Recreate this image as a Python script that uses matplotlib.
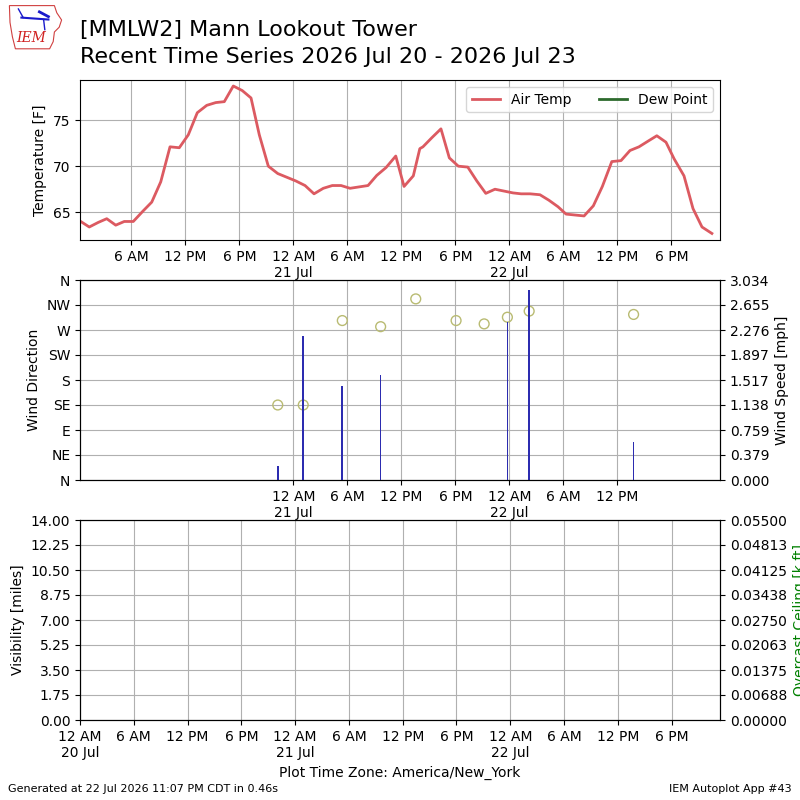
import datetime

import numpy as np
import matplotlib
matplotlib.use('Agg')
import matplotlib.pyplot as plt
import matplotlib.dates as mdates
from matplotlib.ticker import FuncFormatter, FixedLocator
from matplotlib.patches import Polygon

BASE = datetime.datetime(2026, 7, 20, 0, 0)

# hours after 20 Jul 00:00 (America/New_York)
temp_hours = [0.38, 1.33, 2.33, 3.27, 4.27, 5.22, 6.22, 7.27, 8.27, 9.27,
              10.3, 11.33, 12.33, 13.33, 14.38, 15.38, 16.33, 17.33, 18.33, 19.3,
              20.22, 21.22, 22.27, 23.27, 24.27, 25.3, 26.3, 27.33, 28.33, 29.3,
              30.3, 31.3, 32.3, 33.27, 34.3, 35.38, 36.3, 37.33, 38.05, 38.4,
              39.4, 40.4, 41.33, 42.33, 43.38, 44.38, 45.38, 46.4, 47.4, 48.4,
              49.3, 50.3, 51.4, 52.4, 53.4, 54.3, 55.3, 56.3, 57.33, 58.33,
              59.38, 60.4, 61.4, 62.4, 63.38, 64.38, 65.4, 66.3, 67.4, 68.4,
              69.4, 70.5]
air_temp = [64.0, 63.4, 63.9, 64.3, 63.6, 64.0, 64.0, 65.1, 66.1, 68.3,
            72.1, 72.0, 73.4, 75.8, 76.6, 76.9, 77.0, 78.7, 78.2, 77.4,
            73.4, 70.0, 69.2, 68.8, 68.4, 67.9, 67.0, 67.6, 67.9, 67.9,
            67.6, 67.75, 67.9, 69.0, 69.85, 71.1, 67.8, 68.95, 71.9, 72.1,
            73.1, 74.05, 70.9, 70.0, 69.9, 68.4, 67.05, 67.5, 67.3, 67.1,
            67.0, 67.0, 66.9, 66.3, 65.6, 64.8, 64.7, 64.6, 65.7, 67.8,
            70.5, 70.6, 71.7, 72.1, 72.7, 73.3, 72.6, 70.8, 68.95, 65.4,
            63.4, 62.7]

wind_hours = [22.27, 25.1, 29.44, 33.7, 37.6, 42.08, 45.2, 47.78, 50.2, 61.8]
wind_dir = [135, 135, 287, 276, 326, 287, 281, 293, 304, 298]
wind_speed = [0.21, 2.18, 1.43, 1.59, 0.0, 0.0, 0.0, 2.39, 2.88, 0.58]

dir_labels = ['N', 'NE', 'E', 'SE', 'S', 'SW', 'W', 'NW', 'N']
speed_max = 3.03445
ceiling_max = 0.055001
vis_max = 14.0


def tod(h):
    return BASE + datetime.timedelta(hours=h)


def tfmt(x, pos):
    dt = mdates.num2date(x)
    lbl = dt.strftime('%-I %p')
    if dt.hour == 0:
        lbl += "\n" + dt.strftime('%-d %b')
    return lbl


temp_t = [tod(h) for h in temp_hours]
wind_t = [tod(h) for h in wind_hours]

fig = plt.figure(figsize=(8, 8), dpi=100)

# ── title / logo ──────────────────────────────────────────────────────────
fig.text(0.1, 0.9625, "[MMLW2] Mann Lookout Tower", fontsize=16, va='center')
fig.text(0.1, 0.929, "Recent Time Series 2026 Jul 20 - 2026 Jul 23",
         fontsize=16, va='center')

lax = fig.add_axes([0.008, 0.936, 0.075, 0.06])
lax.set_xlim(0, 1)
lax.set_ylim(0, 1)
lax.axis('off')
iowa = [(0.05, 0.95), (0.80, 0.95), (0.84, 0.80), (0.92, 0.65), (0.88, 0.50),
        (0.80, 0.40), (0.78, 0.20), (0.72, 0.05), (0.15, 0.05), (0.10, 0.30),
        (0.06, 0.60)]
lax.add_patch(Polygon(iowa, closed=True, fill=False, ec='#d04040', lw=0.8))
lax.plot([0.25, 0.70], [0.70, 0.66], color='#1a1acc', lw=1.5)
lax.plot([0.20, 0.28], [0.88, 0.70], color='#1a1acc', lw=1.0)
lax.plot([0.55, 0.70], [0.82, 0.72], color='#1a1acc', lw=2.0)
lax.plot([0.62, 0.64], [0.66, 0.45], color='#1a1acc', lw=1.0)
lax.text(0.42, 0.28, "IEM", color='#d02020', fontsize=10, family='serif',
         style='italic', ha='center', va='center')

# ── temperature ───────────────────────────────────────────────────────────
ax1 = fig.add_axes([0.1, 0.7, 0.8, 0.2])
ax1.plot(temp_t, air_temp, color='#dc5a61', lw=2, label='Air Temp')
ax1.plot([], [], color='#2d6a2d', lw=2, label='Dew Point')
ax1.set_ylim(61.99, 79.35)
ax1.set_yticks([65, 70, 75])
ax1.set_xlim(tod(0.3), tod(71.4))
ax1.xaxis.set_major_locator(mdates.HourLocator(byhour=[0, 6, 12, 18]))
ax1.xaxis.set_major_formatter(FuncFormatter(tfmt))
ax1.set_ylabel("Temperature [F]")
ax1.grid(True)
ax1.legend(loc='upper right', ncol=2)

# ── wind ──────────────────────────────────────────────────────────────────
ax2 = fig.add_axes([0.1, 0.4, 0.8, 0.25])
ax2.scatter(wind_t, wind_dir, s=50, facecolor='none', edgecolor='#b9bb72',
            zorder=3)
ax2.set_ylim(0, 360)
ax2.set_yticks(range(0, 361, 45))
ax2.set_yticklabels(dir_labels)
ax2.set_ylabel("Wind Direction")
ax2.set_xlim(tod(0.3), tod(71.4))
ax2.xaxis.set_major_locator(FixedLocator(
    [mdates.date2num(tod(h)) for h in range(24, 61, 6)]))
ax2.xaxis.set_major_formatter(FuncFormatter(tfmt))
ax2.grid(True)

ax2b = ax2.twinx()
ax2b.bar(wind_t, wind_speed, width=0.0075, color='#2c2cb0')
ax2b.set_ylim(0, speed_max)
ax2b.set_yticks(np.linspace(0, speed_max, 9))
ax2b.yaxis.set_major_formatter(FuncFormatter(lambda v, p: f"{v:.3f}"))
ax2b.set_ylabel("Wind Speed [mph]")
ax2b.set_xlim(tod(0.3), tod(71.4))

# ── visibility / ceiling ──────────────────────────────────────────────────
ax3 = fig.add_axes([0.1, 0.1, 0.8, 0.25])
ax3.set_ylim(0, vis_max)
ax3.set_yticks(np.linspace(0, vis_max, 9))
ax3.yaxis.set_major_formatter(FuncFormatter(lambda v, p: f"{v:.2f}"))
ax3.set_ylabel("Visibility [miles]")
ax3.set_xlim(tod(0), tod(71.4))
ax3.xaxis.set_major_locator(mdates.HourLocator(byhour=[0, 6, 12, 18]))
ax3.xaxis.set_major_formatter(FuncFormatter(tfmt))
ax3.set_xlabel("Plot Time Zone: America/New_York")
ax3.grid(True)

ax3b = ax3.twinx()
ax3b.set_ylim(0, ceiling_max)
ax3b.set_yticks(np.linspace(0, ceiling_max, 9))
ax3b.yaxis.set_major_formatter(FuncFormatter(lambda v, p: f"{v:.5f}"))
ax3b.set_ylabel("Overcast Ceiling [k ft]", color='g')

# ── footer ────────────────────────────────────────────────────────────────
fig.text(0.01, 0.014, "Generated at 22 Jul 2026 11:07 PM CDT in 0.46s",
         fontsize=8, va='center')
fig.text(0.99, 0.014, "IEM Autoplot App #43", fontsize=8, va='center',
         ha='right')

fig.savefig("out.png", dpi=100)
